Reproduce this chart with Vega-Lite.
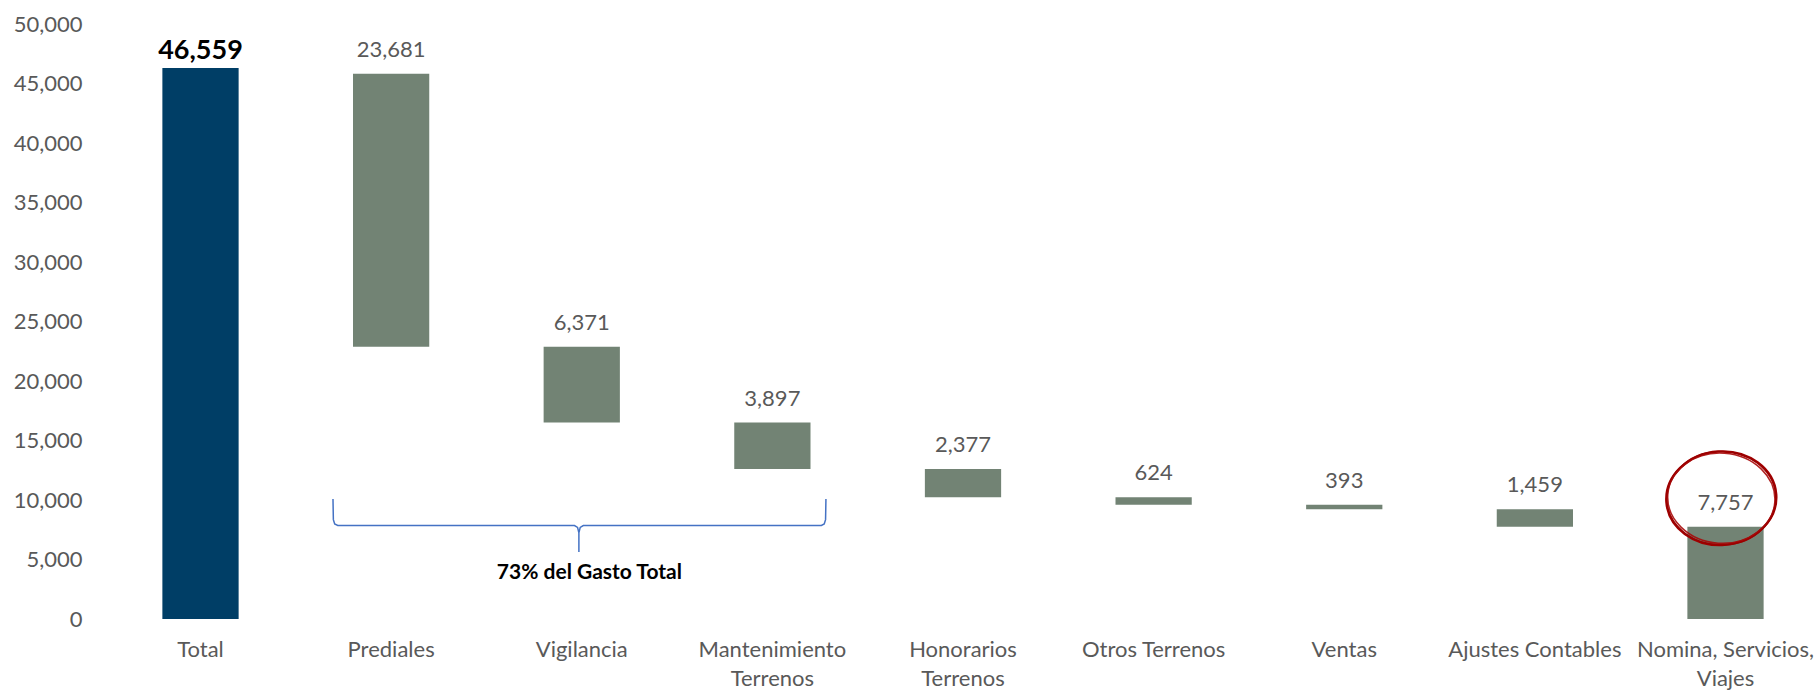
{
  "$schema": "https://vega.github.io/schema/vega-lite/v6.json",
  "width": 1708,
  "height": 595,
  "autosize": {"type": "none"},
  "padding": {"left": 109, "top": 24, "right": 1, "bottom": 71},
  "background": "white",
  "config": {
    "view": {"stroke": null},
    "font": "Lato",
    "axisY": {"format": ",", "labelFont": "Lato", "labelFontSize": 22, "labelColor": "#595959", "labelPadding": 27, "domain": false, "ticks": false, "grid": false, "title": null}
  },
  "datasets": {
    "gastos": [
      {"categoria": "Total", "tipo": "total", "inicio": 0, "fin": 46300, "valor": 46559},
      {"categoria": "Prediales", "tipo": "gasto", "inicio": 22878, "fin": 45820, "valor": 23681},
      {"categoria": "Vigilancia", "tipo": "gasto", "inicio": 16507, "fin": 22878, "valor": 6371},
      {"categoria": "Mantenimiento Terrenos", "tipo": "gasto", "inicio": 12610, "fin": 16507, "valor": 3897},
      {"categoria": "Honorarios Terrenos", "tipo": "gasto", "inicio": 10233, "fin": 12610, "valor": 2377},
      {"categoria": "Otros Terrenos", "tipo": "gasto", "inicio": 9609, "fin": 10233, "valor": 624},
      {"categoria": "Ventas", "tipo": "gasto", "inicio": 9216, "fin": 9609, "valor": 393},
      {"categoria": "Ajustes Contables", "tipo": "gasto", "inicio": 7757, "fin": 9216, "valor": 1459},
      {"categoria": "Nomina, Servicios, Viajes", "tipo": "gasto", "inicio": 0, "fin": 7757, "valor": 7757}
    ],
    "llave": [
      {"orden": 1, "px": 0.695, "py": 10084},
      {"orden": 2, "px": 0.697, "py": 8350},
      {"orden": 3, "px": 0.704, "py": 7980},
      {"orden": 4, "px": 0.72, "py": 7857},
      {"orden": 5, "px": 1.962, "py": 7857},
      {"orden": 6, "px": 1.978, "py": 7700},
      {"orden": 7, "px": 1.985, "py": 7250},
      {"orden": 8, "px": 1.985, "py": 5630},
      {"orden": 9, "px": 1.985, "py": 7250},
      {"orden": 10, "px": 1.992, "py": 7700},
      {"orden": 11, "px": 2.008, "py": 7857},
      {"orden": 12, "px": 3.257, "py": 7857},
      {"orden": 13, "px": 3.272, "py": 7980},
      {"orden": 14, "px": 3.279, "py": 8350},
      {"orden": 15, "px": 3.281, "py": 10084}
    ],
    "nota": [
      {"px": 2.04, "py": 3866, "texto": "73% del Gasto Total"}
    ],
    "circulo": [
      {"px": 7.978, "py": 10150}
    ]
  },
  "layer": [
    {
      "data": {"name": "gastos"},
      "layer": [
        {
          "mark": {"type": "bar"},
          "encoding": {
            "x": {
              "field": "categoria",
              "type": "nominal",
              "sort": null,
              "title": null,
              "scale": {"type": "band", "paddingInner": 0.6, "paddingOuter": 0.28},
              "axis": {
                "title": null,
                "domain": false,
                "ticks": false,
                "labelAngle": 0,
                "labelFont": "Lato",
                "labelFontSize": 22,
                "labelColor": "#595959",
                "labelPadding": 20,
                "labelLineHeight": 29,
                "labelLimit": 400,
                "labelOverlap": false,
                "labelExpr": "datum.label == 'Mantenimiento Terrenos' ? ['Mantenimiento', 'Terrenos'] : datum.label == 'Honorarios Terrenos' ? ['Honorarios', 'Terrenos'] : datum.label == 'Nomina, Servicios, Viajes' ? ['Nomina, Servicios,', 'Viajes'] : datum.label"
              }
            },
            "y": {
              "field": "inicio",
              "type": "quantitative",
              "title": null,
              "scale": {"domain": [0, 50000], "nice": false},
              "axis": {
                "title": null,
                "values": [0, 5000, 10000, 15000, 20000, 25000, 30000, 35000, 40000, 45000, 50000],
                "format": ",",
                "labelExpr": "format(datum.value, ',')"
              }
            },
            "y2": {"field": "fin"},
            "color": {
              "field": "tipo",
              "type": "nominal",
              "scale": {"domain": ["total", "gasto"], "range": ["#003E66", "#728374"]},
              "legend": null
            }
          }
        },
        {
          "transform": [{"filter": "datum.tipo == 'gasto'"}],
          "mark": {"type": "text", "font": "Lato", "fontSize": 22, "color": "#595959", "baseline": "alphabetic", "dy": -17},
          "encoding": {
            "x": {"field": "categoria", "type": "nominal", "sort": null, "title": null},
            "y": {"field": "fin", "type": "quantitative", "title": null},
            "text": {"field": "valor", "type": "quantitative", "format": ","}
          }
        },
        {
          "transform": [{"filter": "datum.tipo == 'total'"}],
          "mark": {"type": "text", "font": "Lato", "fontSize": 27, "fontWeight": "bold", "color": "#000000", "baseline": "alphabetic", "dy": -9},
          "encoding": {
            "x": {"field": "categoria", "type": "nominal", "sort": null, "title": null},
            "y": {"field": "fin", "type": "quantitative", "title": null},
            "text": {"field": "valor", "type": "quantitative", "format": ","}
          }
        }
      ]
    },
    {
      "layer": [
        {
          "data": {"name": "llave"},
          "mark": {"type": "line", "color": "#4472C4", "strokeWidth": 1.5, "interpolate": "linear"},
          "encoding": {
            "x": {"field": "px", "type": "quantitative", "title": null, "scale": {"domain": [-0.48, 8.48], "nice": false, "zero": false}, "axis": null},
            "y": {"field": "py", "type": "quantitative", "title": null},
            "order": {"field": "orden", "type": "quantitative"}
          }
        },
        {
          "data": {"name": "nota"},
          "mark": {"type": "text", "font": "Lato", "fontSize": 21, "fontWeight": "bold", "color": "#000000", "baseline": "middle"},
          "encoding": {
            "x": {"field": "px", "type": "quantitative", "title": null, "scale": {"domain": [-0.48, 8.48], "nice": false, "zero": false}, "axis": null},
            "y": {"field": "py", "type": "quantitative", "title": null},
            "text": {"field": "texto"}
          }
        },
        {
          "data": {"name": "circulo"},
          "mark": {"type": "point", "shape": "M -1 0 A 1 0.85 0 1 1 1 0 A 1 0.85 0 1 1 -1 0 Z", "filled": false, "stroke": "#A00000", "strokeWidth": 2.5, "size": 12100, "angle": -4, "opacity": 1},
          "encoding": {
            "x": {"field": "px", "type": "quantitative", "title": null, "scale": {"domain": [-0.48, 8.48], "nice": false, "zero": false}, "axis": null},
            "y": {"field": "py", "type": "quantitative", "title": null}
          }
        },
        {
          "data": {"name": "circulo"},
          "mark": {"type": "point", "shape": "M -1 0 A 1 0.84 0 1 1 1 0 A 1 0.84 0 1 1 -1 0 Z", "filled": false, "stroke": "#A80A0A", "strokeWidth": 1.5, "size": 11500, "angle": 4, "opacity": 0.9},
          "encoding": {
            "x": {"field": "px", "type": "quantitative", "title": null, "scale": {"domain": [-0.48, 8.48], "nice": false, "zero": false}, "axis": null},
            "y": {"field": "py", "type": "quantitative", "title": null}
          }
        },
        {
          "data": {"name": "circulo"},
          "mark": {"type": "point", "shape": "M -1 0 A 1 0.86 0 1 1 1 0 A 1 0.86 0 1 1 -1 0 Z", "filled": false, "stroke": "#9A0000", "strokeWidth": 1.2, "size": 11900, "angle": 1, "opacity": 0.85},
          "encoding": {
            "x": {"field": "px", "type": "quantitative", "title": null, "scale": {"domain": [-0.48, 8.48], "nice": false, "zero": false}, "axis": null},
            "y": {"field": "py", "type": "quantitative", "title": null}
          }
        }
      ]
    }
  ],
  "resolve": {"scale": {"x": "independent"}}
}
